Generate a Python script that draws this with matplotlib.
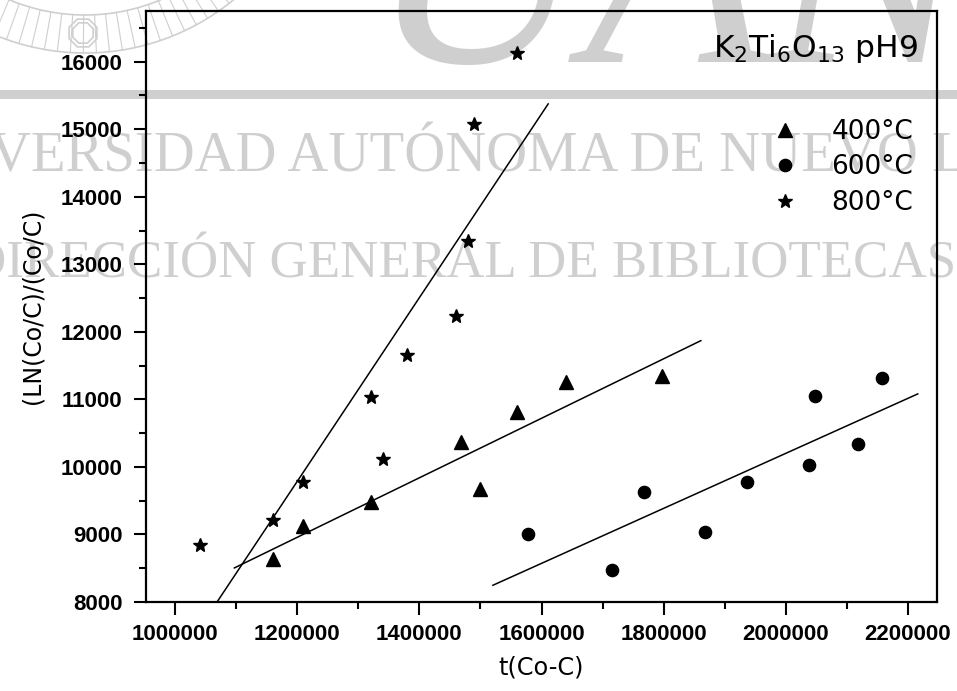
import numpy as np
import matplotlib
matplotlib.use('Agg')
import matplotlib.pyplot as plt
from matplotlib.ticker import MultipleLocator
from matplotlib.lines import Line2D
from matplotlib.patches import Circle, Rectangle, RegularPolygon
from matplotlib.transforms import Affine2D

# ---------------- data ----------------
series_labels = ['400°C', '600°C', '800°C']

t_400 = [1160800, 1210000, 1320200, 1468900, 1499800, 1559100, 1639300, 1797200]
y_400 = [8643, 9126, 9487, 10376, 9670, 10806, 11259, 11348]

t_600 = [1578400, 1716100, 1767200, 1867400, 1936700, 2038600, 2047800, 2118800, 2158000]
y_600 = [9003, 8474, 9630, 9043, 9778, 10030, 11057, 10341, 11314]

t_800 = [1040400, 1160800, 1210000, 1320200, 1341200, 1379500, 1459700, 1479000, 1489000, 1559100]
y_800 = [8840, 9215, 9784, 11028, 10114, 11655, 12237, 13339, 15077, 16129]

x_ticks = [1000000, 1200000, 1400000, 1600000, 1800000, 2000000, 2200000]
y_ticks = [8000, 9000, 10000, 11000, 12000, 13000, 14000, 15000, 16000]

title_text = r'K$_2$Ti$_6$O$_{13}$ pH9'
x_label = 't(Co-C)'
y_label = '(LN(Co/C)/(Co/C)'

wm_line1 = 'UNIVERSIDAD AUTÓNOMA DE NUEVO LEÓN'
wm_line2 = 'DIRECCIÓN GENERAL DE BIBLIOTECAS'
wm_big = 'UANL'

# ---------------- figure ----------------
W, H = 957, 691
DPI = 100
fig = plt.figure(figsize=(W / DPI, H / DPI), dpi=DPI)
fig.patch.set_facecolor('white')

PX = 72.0 / DPI  # points per pixel
pix = Affine2D().scale(1, -1).translate(0, H)  # top-left pixel coords -> display

# ---------------- watermark (behind the axes) ----------------
wm_col = '#cfcfcf'
fig.add_artist(Rectangle((0, 90), W, 9, transform=pix, color=wm_col, zorder=-2, lw=0))
fig.text(486 / W, 1 - 172 / H, wm_line1, ha='center', va='baseline',
         fontsize=56.8 * PX, family='Liberation Serif', color=wm_col, zorder=-2)
fig.text(462 / W, 1 - 277 / H, wm_line2, ha='center', va='baseline',
         fontsize=53 * PX, family='Liberation Serif', color=wm_col, zorder=-2)
fig.text(368 / W, 1 - 62 / H, wm_big, ha='left', va='baseline',
         fontsize=300 * PX, family='Liberation Serif', style='italic',
         color=wm_col, zorder=-2)
# seal
cx, cy = 85, -181
for r in (234, 196):
    fig.add_artist(Circle((cx, cy), r, transform=pix, fill=False,
                          ec=wm_col, lw=1.2, zorder=-2))
for ang in np.arange(20, 161, 3.2):
    a = np.deg2rad(ang)
    fig.add_artist(Line2D([cx + 196 * np.cos(a), cx + 234 * np.cos(a)],
                          [cy + 196 * np.sin(a), cy + 234 * np.sin(a)],
                          transform=pix, color=wm_col, lw=0.8, zorder=-2))
for r in (15, 11):
    fig.add_artist(RegularPolygon((83, 33), 8, radius=r, orientation=np.pi / 8,
                                  transform=pix, fill=False, ec=wm_col, lw=1.2, zorder=-2))

# ---------------- axes ----------------
ax = fig.add_axes([146 / W, 1 - 602 / H, (937 - 146) / W, (602 - 11) / H])
ax.set_facecolor('none')
ax.set_zorder(1)

ax.set_xlim(952500, 2247500)
ax.set_ylim(8000, 16750)

mk = dict(linestyle='none', color='black')
ax.plot(t_400, y_400, marker='^', markersize=10, label=series_labels[0], **mk)
ax.plot(t_600, y_600, marker='o', markersize=8.8, label=series_labels[1], **mk)
ax.plot(t_800, y_800, marker='*', markersize=10, label=series_labels[2], **mk)


def fit_line(t, y):
    t = np.asarray(t, float)
    y = np.asarray(y, float)
    p = np.polyfit(t, y, 1)
    span = t.max() - t.min()
    xs = np.array([t.min() - 0.1 * span, t.max() + 0.1 * span])
    ax.plot(xs, np.polyval(p, xs), color='black', lw=1.1)


fit_line(t_400, y_400)
fit_line(t_600, y_600)
fit_line(t_800, y_800)

# ticks
ax.set_xticks(x_ticks)
ax.set_xticklabels([str(v) for v in x_ticks])
ax.set_yticks(y_ticks)
ax.set_yticklabels([str(v) for v in y_ticks])
ax.xaxis.set_minor_locator(MultipleLocator(100000))
ax.yaxis.set_minor_locator(MultipleLocator(500))
ax.tick_params(which='both', direction='out', top=False, right=False, width=1.5,
               color='black')
ax.tick_params(which='major', length=9)
ax.tick_params(axis='x', which='major', pad=7)
ax.tick_params(axis='y', which='major', pad=8)
ax.tick_params(which='minor', length=5)
for lab in ax.get_xticklabels() + ax.get_yticklabels():
    lab.set_family('Liberation Sans')
    lab.set_fontweight('bold')
    lab.set_fontsize(16)
for s in ax.spines.values():
    s.set_linewidth(1.6)
    s.set_color('black')

ax.set_xlabel(x_label, fontsize=17.3, family='DejaVu Sans', va='center')
ax.xaxis.set_label_coords(0.5, (602 - 667) / 591)
ax.set_ylabel(y_label, fontsize=17, family='DejaVu Sans', va='center')
ax.yaxis.set_label_coords((33 - 146) / 791, 0.5)

ax.text((918 - 146) / 791, (602 - 57) / 591, title_text, transform=ax.transAxes,
        ha='right', va='baseline', fontsize=22.5, family='DejaVu Sans')

leg = ax.legend(loc='upper left', bbox_to_anchor=(772 / W, 1 - 119 / H),
                bbox_transform=fig.transFigure, frameon=False,
                prop={'family': 'DejaVu Sans', 'size': 19},
                handlelength=1.0, handletextpad=1.25, labelspacing=0.36,
                borderpad=0, borderaxespad=0, numpoints=1)

fig.savefig('out.png', dpi=DPI)
